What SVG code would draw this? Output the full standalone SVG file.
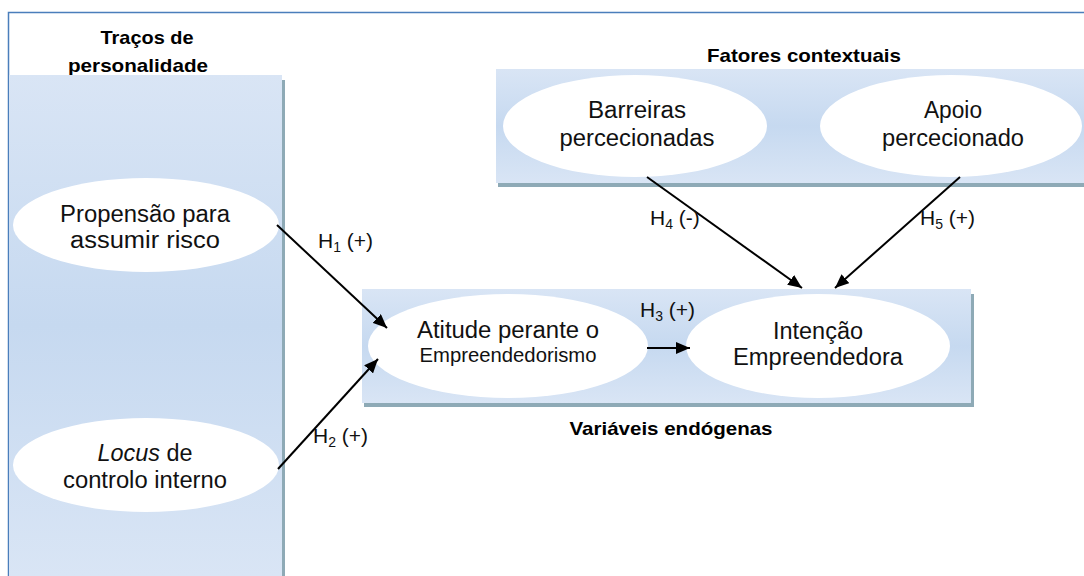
<svg xmlns="http://www.w3.org/2000/svg" width="1084" height="576" viewBox="0 0 1084 576">
<defs>
<linearGradient id="pg" x1="0" y1="0" x2="0" y2="1">
<stop offset="0" stop-color="#d9e5f5"/>
<stop offset="0.5" stop-color="#c6d9f0"/>
<stop offset="1" stop-color="#d9e5f5"/>
</linearGradient>
<marker id="ah" viewBox="0 0 14 12" refX="14" refY="6" markerWidth="14" markerHeight="12" markerUnits="userSpaceOnUse" orient="auto">
<path d="M0,0 L14,6 L0,12 Z" fill="#000"/>
</marker>
<style>
.panel{fill:url(#pg)}
.shadow{fill:#8eaab6}
.node{fill:#fff}
.t{font-family:"Liberation Sans",Arial,sans-serif;font-size:23px;fill:#111;text-anchor:middle}
.ts{font-family:"Liberation Sans",Arial,sans-serif;font-size:20px;fill:#111;text-anchor:middle}
.title{font-family:"Liberation Sans",Arial,sans-serif;font-size:19px;font-weight:bold;fill:#000;text-anchor:middle}
.h{font-family:"Liberation Sans",Arial,sans-serif;font-size:21px;fill:#111}
.sub{font-size:14px}
.conn{stroke:#000;stroke-width:2;fill:none;marker-end:url(#ah)}
</style>
</defs>
<rect width="1084" height="576" fill="#fff"/>
<path d="M8.5,576 V12.5 H1084" fill="none" stroke="#4a7ebb" stroke-width="1.5"/>

<g id="title-personalidade">
<text class="title" x="147" y="44" textLength="93" lengthAdjust="spacingAndGlyphs">Traços de</text>
<text class="title" x="138" y="72" textLength="140" lengthAdjust="spacingAndGlyphs">personalidade</text>
</g>
<g id="panel-personalidade">
<rect class="shadow" x="282" y="80" width="3" height="496"/>
<rect class="panel" x="9" y="75" width="273" height="501"/>
</g>

<g id="title-contextuais">
<text class="title" x="804" y="62" textLength="194" lengthAdjust="spacingAndGlyphs">Fatores contextuais</text>
</g>
<g id="panel-contextuais">
<rect class="shadow" x="498" y="183" width="586" height="4"/>
<rect class="panel" x="496" y="69" width="588" height="114"/>
</g>

<g id="panel-endogenas">
<rect class="shadow" x="971" y="294" width="3" height="113"/>
<rect class="shadow" x="364" y="403" width="610" height="4"/>
<rect class="panel" x="362" y="289" width="609" height="114"/>
</g>
<g id="title-endogenas">
<text class="title" x="671" y="435" textLength="203" lengthAdjust="spacingAndGlyphs">Variáveis endógenas</text>
</g>

<g id="node-propensao">
<ellipse class="node" cx="146" cy="225" rx="133" ry="47"/>
<text class="t" x="145" y="222" textLength="170" lengthAdjust="spacingAndGlyphs">Propensão para</text>
<text class="t" x="145" y="248" textLength="150" lengthAdjust="spacingAndGlyphs">assumir risco</text>
</g>

<g id="node-locus">
<ellipse class="node" cx="146" cy="465" rx="133" ry="47"/>
<text class="t" x="145" y="461" textLength="95" lengthAdjust="spacingAndGlyphs"><tspan font-style="italic">Locus</tspan> de</text>
<text class="t" x="145" y="488" textLength="164" lengthAdjust="spacingAndGlyphs">controlo interno</text>
</g>

<g id="node-barreiras">
<ellipse class="node" cx="635" cy="126" rx="132" ry="51"/>
<text class="t" x="637" y="118" textLength="98" lengthAdjust="spacingAndGlyphs">Barreiras</text>
<text class="t" x="637" y="146" textLength="155" lengthAdjust="spacingAndGlyphs">percecionadas</text>
</g>

<g id="node-apoio">
<ellipse class="node" cx="951" cy="126" rx="131" ry="51"/>
<text class="t" x="953" y="118" textLength="58" lengthAdjust="spacingAndGlyphs">Apoio</text>
<text class="t" x="953" y="146" textLength="142" lengthAdjust="spacingAndGlyphs">percecionado</text>
</g>

<g id="node-atitude">
<ellipse class="node" cx="508" cy="346" rx="140" ry="52"/>
<text class="t" x="508" y="338" textLength="182" lengthAdjust="spacingAndGlyphs">Atitude perante o</text>
<text class="ts" x="508" y="362" textLength="177" lengthAdjust="spacingAndGlyphs">Empreendedorismo</text>
</g>

<g id="node-intencao">
<ellipse class="node" cx="818" cy="346" rx="132" ry="52"/>
<text class="t" x="818" y="339" textLength="90" lengthAdjust="spacingAndGlyphs">Intenção</text>
<text class="t" x="818" y="365" textLength="170" lengthAdjust="spacingAndGlyphs">Empreendedora</text>
</g>

<g id="connectors">
<line class="conn" x1="277" y1="225" x2="387" y2="328"/>
<line class="conn" x1="278" y1="469" x2="378" y2="359"/>
<line class="conn" x1="647" y1="348" x2="690" y2="348"/>
<line class="conn" x1="647" y1="177" x2="802" y2="288"/>
<line class="conn" x1="960" y1="177" x2="835" y2="288"/>
</g>

<g id="labels">
<text class="h" x="318" y="248">H<tspan class="sub" dy="4">1</tspan><tspan dy="-4"> (+)</tspan></text>
<text class="h" x="313" y="443">H<tspan class="sub" dy="4">2</tspan><tspan dy="-4"> (+)</tspan></text>
<text class="h" x="640" y="317">H<tspan class="sub" dy="4">3</tspan><tspan dy="-4"> (+)</tspan></text>
<text class="h" x="650" y="225">H<tspan class="sub" dy="4">4</tspan><tspan dy="-4"> (-)</tspan></text>
<text class="h" x="920" y="225">H<tspan class="sub" dy="4">5</tspan><tspan dy="-4"> (+)</tspan></text>
</g>
</svg>
